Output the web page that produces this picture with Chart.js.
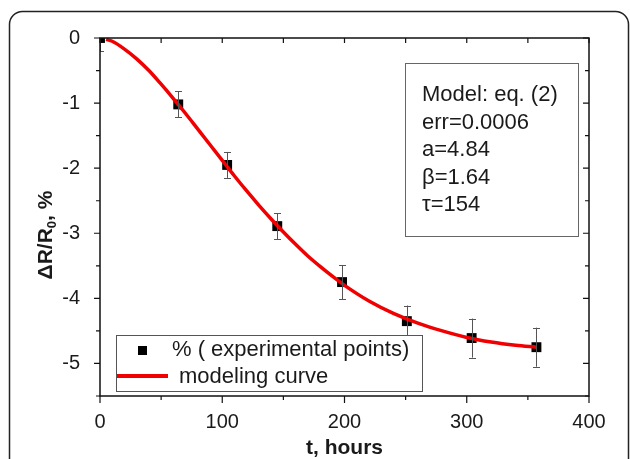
<!DOCTYPE html>
<html>
<head>
<meta charset="utf-8">
<script src="https://cdn.jsdelivr.net/npm/chart.js@4.4.1/dist/chart.umd.min.js"></script>
<style>
html,body{margin:0;padding:0;background:#fff;}
#wrap{width:630px;height:459px;position:relative;}
</style>
</head>
<body>
<div id="wrap"><canvas id="c" width="630" height="459"></canvas></div>
<script>
// ---- data ----
const expT   = [0, 64, 104, 145, 198, 251, 304, 357];
const expY   = [0, -1.02, -1.95, -2.89, -3.75, -4.35, -4.61, -4.75];
const expErr = [0.2, 0.2, 0.2, 0.2, 0.26, 0.24, 0.3, 0.3];

const curveT = [5, 10, 20, 30, 40, 50, 60, 70, 80, 90, 100, 110, 120, 130, 140, 150, 160, 170, 180, 190, 200, 220, 240, 260, 280, 300, 320, 340, 357];
const curveY = [-0.02, -0.05, -0.17, -0.32, -0.50, -0.71, -0.93, -1.16, -1.40, -1.64, -1.88, -2.12, -2.35, -2.57, -2.78, -2.98, -3.17, -3.35, -3.51, -3.66, -3.80, -4.04, -4.23, -4.38, -4.50, -4.60, -4.67, -4.72, -4.75];

const xTicks = [0, 100, 200, 300, 400];
const yTicks = [0, -1, -2, -3, -4, -5];
const xMinor = [50, 150, 250, 350];
const yMinor = [-0.5, -1.5, -2.5, -3.5, -4.5, -5.5];

const legendLabels = ['% ( experimental points)', 'modeling curve'];
const infoLines = ['Model: eq. (2)', 'err=0.0006', 'a=4.84', '\u03B2=1.64', '\u03C4=154'];
const xTitle = 't, hours';

const FONT = '"Liberation Sans", Arial, sans-serif';
const RED = 'rgb(240,0,0)';

const framePlugin = {
  id: 'frame',
  beforeDraw(chart) {
    const ctx = chart.ctx;
    ctx.save();
    ctx.fillStyle = '#fff';
    ctx.fillRect(0, 0, chart.width, chart.height);
    ctx.strokeStyle = '#222';
    ctx.lineWidth = 1.5;
    ctx.beginPath();
    ctx.roundRect(9.5, 11.5, 619, 470, 13);
    ctx.stroke();
    ctx.restore();
  },
  afterDatasetsDraw(chart) {
    const ctx = chart.ctx;
    const a = chart.chartArea;
    const xs = chart.scales.x, ys = chart.scales.y;
    ctx.save();
    ctx.beginPath();
    ctx.rect(a.left, a.top, a.right - a.left, a.bottom - a.top);
    ctx.clip();
    ctx.strokeStyle = '#555';
    ctx.lineWidth = 1;
    expT.forEach((t, i) => {
      const px = Math.round(xs.getPixelForValue(t)) + 0.5;
      const y1 = ys.getPixelForValue(expY[i] + expErr[i]);
      const y2 = ys.getPixelForValue(expY[i] - expErr[i]);
      ctx.beginPath();
      ctx.moveTo(px, y1); ctx.lineTo(px, y2);
      ctx.moveTo(px - 3.5, Math.round(y1) + 0.5); ctx.lineTo(px + 3.5, Math.round(y1) + 0.5);
      ctx.moveTo(px - 3.5, Math.round(y2) + 0.5); ctx.lineTo(px + 3.5, Math.round(y2) + 0.5);
      ctx.stroke();
    });
    ctx.restore();
  },
  afterDraw(chart) {
    const ctx = chart.ctx;
    const a = chart.chartArea;
    const xs = chart.scales.x, ys = chart.scales.y;
    ctx.save();
    ctx.strokeStyle = '#111';
    ctx.lineWidth = 1.5;
    ctx.strokeRect(a.left, a.top, a.right - a.left, a.bottom - a.top);
    ctx.lineWidth = 1.2;
    ctx.beginPath();
    yTicks.forEach(v => {
      const py = ys.getPixelForValue(v);
      ctx.moveTo(a.left - 6, py); ctx.lineTo(a.left, py);
      ctx.moveTo(a.right - 6, py); ctx.lineTo(a.right, py);
    });
    yMinor.forEach(v => {
      const py = ys.getPixelForValue(v);
      ctx.moveTo(a.left - 4, py); ctx.lineTo(a.left, py);
      ctx.moveTo(a.right - 4, py); ctx.lineTo(a.right, py);
    });
    xTicks.forEach(v => {
      const px = xs.getPixelForValue(v);
      ctx.moveTo(px, a.bottom); ctx.lineTo(px, a.bottom + 7);
      ctx.moveTo(px, a.top); ctx.lineTo(px, a.top + 5);
    });
    xMinor.forEach(v => {
      const px = xs.getPixelForValue(v);
      ctx.moveTo(px, a.bottom); ctx.lineTo(px, a.bottom + 4);
      ctx.moveTo(px, a.top); ctx.lineTo(px, a.top + 5);
    });
    ctx.stroke();

    // info box
    ctx.strokeStyle = '#666';
    ctx.lineWidth = 1;
    ctx.strokeRect(405.5, 63.5, 173, 173);
    ctx.fillStyle = '#1a1a1a';
    ctx.font = '22px ' + FONT;
    ctx.textBaseline = 'middle';
    ctx.textAlign = 'left';
    infoLines.forEach((s, i) => ctx.fillText(s, 422, 95 + i * 27.5));

    // legend box
    ctx.fillStyle = '#fff';
    ctx.fillRect(116, 335, 306, 56);
    ctx.strokeStyle = '#555';
    ctx.strokeRect(116.5, 335.5, 306, 56);
    const ds0 = chart.data.datasets[0], ds1 = chart.data.datasets[1];
    ctx.fillStyle = ds0.backgroundColor;
    ctx.fillRect(138, 346, 9, 9);
    ctx.strokeStyle = ds1.borderColor;
    ctx.lineWidth = 4;
    ctx.beginPath(); ctx.moveTo(117, 376); ctx.lineTo(168, 376); ctx.stroke();
    ctx.fillStyle = '#1a1a1a';
    ctx.font = '22px ' + FONT;
    ctx.fillText(legendLabels[0], 172, 350);
    ctx.fillText(legendLabels[1], 179, 377);

    // axis titles
    ctx.font = 'bold 21px ' + FONT;
    ctx.textAlign = 'center';
    ctx.fillText(xTitle, (a.left + a.right) / 2, 448);
    ctx.translate(46, 235);
    ctx.rotate(-Math.PI / 2);
    const p1 = '\u0394R/R', sub = '0', p2 = ', %';
    ctx.font = 'bold 21px ' + FONT;
    const w1 = ctx.measureText(p1).width, w3 = ctx.measureText(p2).width;
    ctx.font = 'bold 13px ' + FONT;
    const w2 = ctx.measureText(sub).width;
    const tot = w1 + w2 + w3;
    ctx.textAlign = 'left';
    let x0 = -tot / 2;
    ctx.font = 'bold 21px ' + FONT;
    ctx.fillText(p1, x0, 0);
    ctx.font = 'bold 13px ' + FONT;
    ctx.fillText(sub, x0 + w1, 6);
    ctx.font = 'bold 21px ' + FONT;
    ctx.fillText(p2, x0 + w1 + w2, 0);
    ctx.restore();
  }
};

new Chart(document.getElementById('c'), {
  type: 'scatter',
  data: {
    datasets: [
      {
        label: legendLabels[0],
        data: expT.map((t, i) => ({x: t, y: expY[i]})),
        backgroundColor: '#000',
        borderColor: '#000',
        pointStyle: 'rect',
        pointRadius: 7,
        pointBorderWidth: 0,
        clip: 0,
        order: 1
      },
      {
        label: legendLabels[1],
        data: curveT.map((t, i) => ({x: t, y: curveY[i]})),
        showLine: true,
        borderColor: RED,
        borderWidth: 3.5,
        pointRadius: 0,
        tension: 0.4,
        cubicInterpolationMode: 'monotone',
        clip: 0,
        order: 0
      }
    ]
  },
  options: {
    responsive: false,
    animation: false,
    devicePixelRatio: 1,
    layout: {padding: {left: 0, right: 41, top: 38, bottom: 0}},
    plugins: {legend: {display: false}, tooltip: {enabled: false}},
    scales: {
      x: {
        type: 'linear', min: 0, max: 400,
        afterFit(s) { s.height = 63; },
        afterBuildTicks(s) { s.ticks = xTicks.map(v => ({value: v})); },
        grid: {display: false, drawOnChartArea: false},
        border: {display: false},
        ticks: {color: '#1a1a1a', font: {size: 20, family: FONT}, padding: 6, maxRotation: 0}
      },
      y: {
        type: 'linear', min: -5.5, max: 0,
        afterFit(s) { s.width = 100; },
        afterBuildTicks(s) { s.ticks = yTicks.map(v => ({value: v})); },
        grid: {display: false, drawOnChartArea: false},
        border: {display: false},
        ticks: {color: '#1a1a1a', font: {size: 20, family: FONT}, padding: 12}
      }
    }
  },
  plugins: [framePlugin]
});
</script>
</body>
</html>
